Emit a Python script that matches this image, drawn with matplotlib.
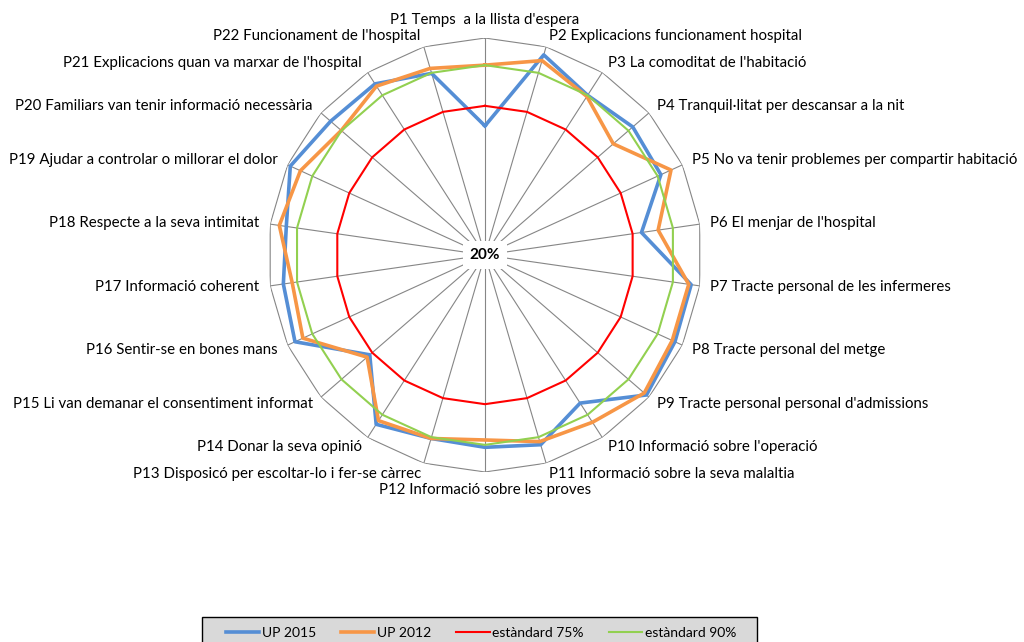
import numpy as np
import matplotlib.pyplot as plt
from matplotlib.patches import Rectangle

# categories of the radar (clockwise from the top)
categories = [
    "P1 Temps  a la llista d'espera",
    "P2 Explicacions funcionament hospital",
    "P3 La comoditat de l'habitació",
    "P4 Tranquil·litat per descansar a la nit",
    "P5 No va tenir problemes per compartir habitació",
    "P6 El menjar de l'hospital",
    "P7 Tracte personal de les infermeres",
    "P8 Tracte personal del metge",
    "P9 Tracte personal personal d'admissions",
    "P10 Informació sobre l'operació",
    "P11 Informació sobre la seva malaltia",
    "P12 Informació sobre les proves",
    "P13 Disposicó per escoltar-lo i fer-se càrrec",
    "P14 Donar la seva opinió",
    "P15 Li van demanar el consentiment informat",
    "P16 Sentir-se en bones mans",
    "P17 Informació coherent",
    "P18 Respecte a la seva intimitat",
    "P19 Ajudar a controlar o millorar el dolor",
    "P20 Familiars van tenir informació necessària",
    "P21 Explicacions quan va marxar de l'hospital",
    "P22 Funcionament de l'hospital",
]

up2015 = [67.6, 96.9, 90.0, 92.1, 91.3, 78.3, 96.8, 97.0, 98.8, 84.9, 92.9,
          90.9, 90.5, 94.2, 76.2, 97.0, 95.1, 94.0, 98.9, 95.3, 95.0, 89.8]
up2012 = [90.0, 94.7, 89.5, 82.6, 95.4, 84.5, 95.9, 95.9, 97.7, 93.3, 91.7,
          88.2, 90.5, 92.6, 77.5, 93.8, 91.8, 96.6, 94.8, 90.1, 94.0, 91.7]
std75 = [75] * len(categories)
std90 = [90] * len(categories)

series = [
    ("UP 2015", up2015, "#558ED5", 2.6),
    ("UP 2012", up2012, "#F79646", 2.6),
    ("estàndard 75%", std75, "#FF0000", 1.5),
    ("estàndard 90%", std90, "#92D050", 1.5),
]

rmin, rmax = 20, 100

plt.rcParams['font.family'] = ['Lato', 'DejaVu Sans']

fig = plt.figure(figsize=(10.24, 6.42), dpi=100)
ax = fig.add_axes([0.2617, 0.2648, 0.4238, 0.676], projection='polar')
ax.set_theta_zero_location('N')
ax.set_theta_direction(-1)
ax.set_ylim(rmin, rmax)

n = len(categories)
theta = np.linspace(0, 2 * np.pi, n, endpoint=False)
closed = np.append(theta, theta[0])

# polygon grid: outer ring + spokes
ax.grid(False)
ax.spines['polar'].set_visible(False)
ax.set_xticks([])
ax.set_yticks([])
ax.plot(closed, [rmax] * (n + 1), color='#868686', lw=0.8, zorder=1)
for t in theta:
    ax.plot([t, t], [rmin, rmax], color='#868686', lw=0.8, zorder=1)

handles = []
for name, vals, col, lw in series:
    v = np.append(vals, vals[0])
    h, = ax.plot(closed, v, color=col, lw=lw, label=name, zorder=3)
    handles.append(h)

# category labels
fs = 10.8
for t, lab in zip(theta, categories):
    s = np.sin(t)
    c = np.cos(t)
    if abs(s) < 0.05:
        ha = 'center'
        va = 'bottom' if c > 0 else 'top'
    else:
        ha = 'left' if s > 0 else 'right'
        va = 'center'
    ax.text(t, rmax + 4, lab, ha=ha, va=va, fontsize=fs, color='black')

ax.text(0, rmin, "20%", ha='center', va='center', fontsize=11, fontweight='bold',
        bbox=dict(facecolor='white', edgecolor='none', pad=5), zorder=5)

# legend box (runs past the bottom edge, as in the original)
box = Rectangle((202 / 1024, -0.03), 555 / 1024, 1 - 617 / 642 + 0.03,
                transform=fig.transFigure, facecolor='#D9D9D9',
                edgecolor='black', lw=1.0, zorder=0)
fig.patches.append(box)

leg = fig.legend(handles=handles, loc='center', ncol=4,
                 bbox_to_anchor=(481 / 1024, 1 - 633 / 642),
                 fontsize=10, handlelength=2.4, handletextpad=0.2,
                 columnspacing=1.8, frameon=False, borderpad=0)

plt.savefig("out.png", dpi=100)
